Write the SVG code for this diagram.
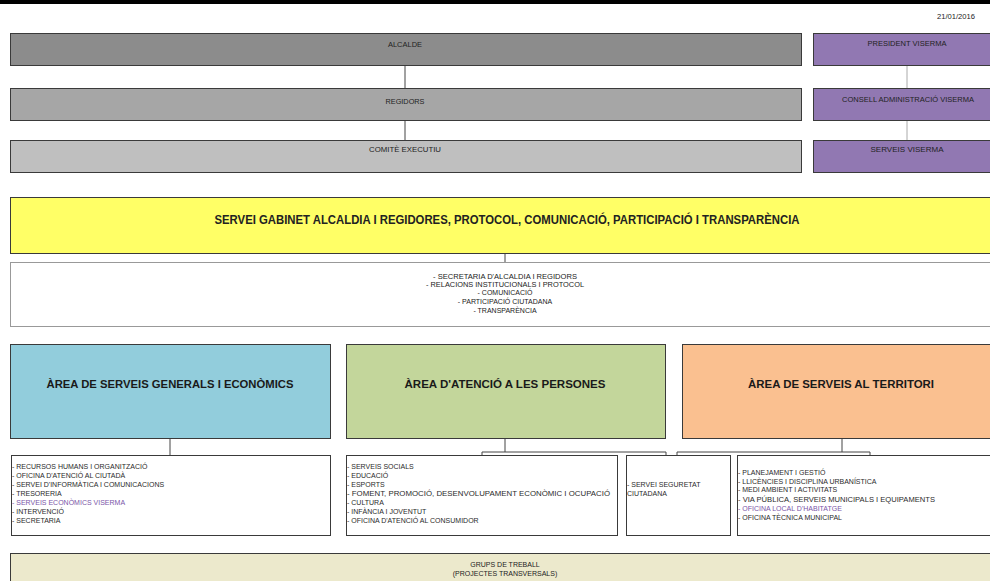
<svg xmlns="http://www.w3.org/2000/svg" width="990" height="581" viewBox="0 0 990 581">
<style>
.box{stroke:#3a3a3a;stroke-width:1}
.t{font-family:"Liberation Sans",Arial,sans-serif;fill:#222}
.s{font-size:7px;text-anchor:middle}
.l{font-size:7px;fill:#2a2a2a}
.p{fill:#7a55a8}
.ar{font-size:11px;font-weight:bold;text-anchor:middle;fill:#1a1a1a}
.c{stroke:#444;stroke-width:1;fill:none}
.cl{stroke:#aaa;stroke-width:1;fill:none}
</style>
<rect x="0" y="0" width="990" height="581" fill="#fff"/>
<rect x="0" y="0" width="990" height="4" fill="#000"/>
<text class="t" x="975" y="19" font-size="7" text-anchor="end" textLength="38" lengthAdjust="spacingAndGlyphs">21/01/2016</text>

<g id="connectors">
<path class="c" d="M405 65V88M405 120V140"/>
<path class="cl" d="M907 65V88M907 120V140"/>
<path class="c" d="M505 254V262"/>
<path class="c" d="M170 438V455"/>
<path class="c" d="M505 438V452M482 455V452H666V455"/>
<path class="c" d="M842 438V452M677 455V452H870V455"/>
</g>

<g id="alcalde"><rect class="box" x="10.5" y="33.5" width="791" height="32" fill="#8c8c8c"/>
<text class="t s" x="405" y="47" textLength="34" lengthAdjust="spacingAndGlyphs">ALCALDE</text></g>
<g id="regidors"><rect class="box" x="10.5" y="88.5" width="791" height="32" fill="#a6a6a6"/>
<text class="t s" x="405" y="104" textLength="39" lengthAdjust="spacingAndGlyphs">REGIDORS</text></g>
<g id="comite"><rect class="box" x="10.5" y="140.5" width="791" height="32" fill="#bfbfbf"/>
<text class="t s" x="405" y="152" textLength="72" lengthAdjust="spacingAndGlyphs">COMITÈ EXECUTIU</text></g>

<g id="president"><rect class="box" x="813.5" y="33.5" width="180" height="32" fill="#9178b2"/>
<text class="t s" x="907" y="46" textLength="79" lengthAdjust="spacingAndGlyphs">PRESIDENT VISERMA</text></g>
<g id="consell"><rect class="box" x="813.5" y="88.5" width="180" height="32" fill="#9178b2"/>
<text class="t s" x="908" y="102" textLength="132" lengthAdjust="spacingAndGlyphs">CONSELL ADMINISTRACIÓ VISERMA</text></g>
<g id="serveis-viserma"><rect class="box" x="813.5" y="140.5" width="180" height="32" fill="#9178b2"/>
<text class="t s" x="907" y="152" textLength="73" lengthAdjust="spacingAndGlyphs">SERVEIS VISERMA</text></g>

<g id="gabinet"><rect class="box" x="10.5" y="197.5" width="990" height="56" fill="#ffff66"/>
<text class="t" x="507" y="224" font-size="12" font-weight="bold" text-anchor="middle" fill="#1a1a1a" textLength="585" lengthAdjust="spacingAndGlyphs">SERVEI GABINET ALCALDIA I REGIDORES, PROTOCOL, COMUNICACIÓ, PARTICIPACIÓ I TRANSPARÈNCIA</text></g>
<g id="gabinet-list"><rect x="10.5" y="262.5" width="990" height="64" fill="#fff" stroke="#999"/>
<text class="t s" font-size="6.5" x="505" y="278.5" textLength="144" lengthAdjust="spacingAndGlyphs">- SECRETARIA D'ALCALDIA I REGIDORS</text>
<text class="t s" font-size="6.5" x="505" y="286.5" textLength="158" lengthAdjust="spacingAndGlyphs">- RELACIONS INSTITUCIONALS I PROTOCOL</text>
<text class="t s" font-size="6.5" x="505" y="295">- COMUNICACIÓ</text>
<text class="t s" font-size="6.5" x="505" y="304">- PARTICIPACIÓ CIUTADANA</text>
<text class="t s" font-size="6.5" x="505" y="312.5">- TRANSPARÈNCIA</text></g>

<g id="area-generals"><rect class="box" x="10.5" y="344.5" width="320" height="94" fill="#92cddc"/>
<text class="t ar" x="170" y="388" textLength="247" lengthAdjust="spacingAndGlyphs">ÀREA DE SERVEIS GENERALS I ECONÒMICS</text></g>
<g id="area-persones"><rect class="box" x="346.5" y="344.5" width="319" height="94" fill="#c3d69b"/>
<text class="t ar" x="505" y="388" textLength="201" lengthAdjust="spacingAndGlyphs">ÀREA D'ATENCIÓ A LES PERSONES</text></g>
<g id="area-territori"><rect class="box" x="682.5" y="344.5" width="320" height="94" fill="#fac090"/>
<text class="t ar" x="841" y="388" textLength="186" lengthAdjust="spacingAndGlyphs">ÀREA DE SERVEIS AL TERRITORI</text></g>

<g id="list-generals"><rect class="box" x="11.5" y="455.5" width="319" height="80" fill="#fff"/>
<text class="t l" x="12" y="468.5">- RECURSOS HUMANS I ORGANITZACIÓ</text>
<text class="t l" x="12" y="477.5">- OFICINA D'ATENCIÓ AL CIUTADÀ</text>
<text class="t l" x="12" y="486.5">- SERVEI D'INFORMÀTICA I COMUNICACIONS</text>
<text class="t l" x="12" y="495.5">- TRESORERIA</text>
<text class="t l p" x="12" y="504.5">- SERVEIS ECONÒMICS VISERMA</text>
<text class="t l" x="12" y="513.5">- INTERVENCIÓ</text>
<text class="t l" x="12" y="522.5">- SECRETARIA</text></g>

<g id="list-persones"><rect class="box" x="346.5" y="455.5" width="271" height="80" fill="#fff"/>
<text class="t l" x="347" y="468.5">- SERVEIS SOCIALS</text>
<text class="t l" x="347" y="477.5">- EDUCACIÓ</text>
<text class="t l" x="347" y="486.5">- ESPORTS</text>
<text class="t l" x="347" y="495.5" textLength="263" lengthAdjust="spacingAndGlyphs">- FOMENT, PROMOCIÓ, DESENVOLUPAMENT ECONÒMIC I OCUPACIÓ</text>
<text class="t l" x="347" y="504.5">- CULTURA</text>
<text class="t l" x="347" y="513.5">- INFÀNCIA I JOVENTUT</text>
<text class="t l" x="347" y="522.5">- OFICINA D'ATENCIÓ AL CONSUMIDOR</text></g>

<g id="seguretat"><rect class="box" x="626.5" y="455.5" width="104" height="80" fill="#fff"/>
<text class="t l" x="627" y="486.5">- SERVEI SEGURETAT</text>
<text class="t l" x="627" y="495.5">CIUTADANA</text></g>

<g id="list-territori"><rect class="box" x="737.5" y="455.5" width="260" height="80" fill="#fff"/>
<text class="t l" x="738" y="474.5">- PLANEJAMENT I GESTIÓ</text>
<text class="t l" x="738" y="483.5">- LLICÈNCIES I DISCIPLINA URBANÍSTICA</text>
<text class="t l" x="738" y="492">- MEDI AMBIENT I ACTIVITATS</text>
<text class="t l" x="738" y="501.5" textLength="197" lengthAdjust="spacingAndGlyphs">- VIA PÚBLICA, SERVEIS MUNICIPALS I EQUIPAMENTS</text>
<text class="t l p" x="738" y="510.5">- OFICINA LOCAL D'HABITATGE</text>
<text class="t l" x="738" y="519.5">- OFICINA TÈCNICA MUNICIPAL</text></g>

<g id="grups"><rect class="box" x="10.5" y="553.5" width="990" height="40" fill="#ece9cc"/>
<text class="t s" x="505" y="567">GRUPS DE TREBALL</text>
<text class="t s" font-size="6.5" x="505" y="576">(PROJECTES TRANSVERSALS)</text></g>
</svg>
